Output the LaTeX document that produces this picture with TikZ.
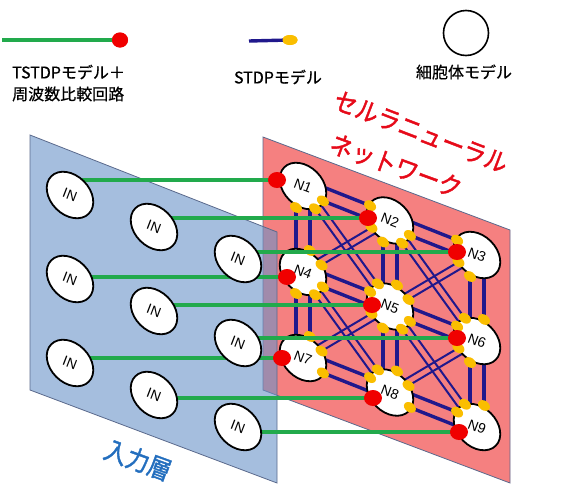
\documentclass[tikz,border=0pt]{standalone}
\usepackage{fontspec}
\setmainfont{Liberation Sans}
\newfontfamily\jp{Noto Sans CJK JP}[FakeBold=0.6]
\newfontfamily\jpb{Noto Sans CJK JP}[FakeBold=1.6]
\usetikzlibrary{calc,shapes.geometric}
\pgfdeclarelayer{back}
\pgfdeclarelayer{mid}
\pgfdeclarelayer{front}
\pgfdeclarelayer{top}
\pgfsetlayers{back,mid,main,front,top}
\definecolor{gline}{RGB}{34,170,76}
\definecolor{rdotc}{RGB}{240,0,0}
\definecolor{navyc}{RGB}{32,24,140}
\definecolor{ydot}{RGB}{250,190,0}
\definecolor{redplane}{RGB}{245,128,128}
\definecolor{blueplane}{RGB}{105,147,200}
\definecolor{edgec}{RGB}{90,105,140}
\definecolor{titlered}{RGB}{230,10,25}
\definecolor{titleblue}{RGB}{35,110,190}
\newcommand\synpair[5]{%
  \coordinate (sa) at ($(#1.center)!#3!90:(#2.center)$);
  \coordinate (sb) at ($(#2.center)!#3!-90:(#1.center)$);
  \coordinate (sc) at ($(#1.center)!#3!-90:(#2.center)$);
  \coordinate (sd) at ($(#2.center)!#3!90:(#1.center)$);
  \begin{pgfonlayer}{mid}
    \draw[#5] (sa) -- (sb);
    \draw[#5] (sc) -- (sd);
  \end{pgfonlayer}
  \node[syndot] at ($(sb)!#4!(sa)$) {};
  \node[syndot] at ($(sc)!#4!(sd)$) {};
}
\begin{document}
\begin{tikzpicture}[x=1pt,y=1pt,
  cell/.style={ellipse, draw=black, line width=1.8pt, fill=white, minimum width=53pt, minimum height=39pt, inner sep=0pt, rotate=-45, font=\fontsize{14}{14}\selectfont},
  syndot/.style={ellipse, fill=ydot, minimum width=13pt, minimum height=9.5pt, inner sep=0pt, rotate=-35},
  rdot/.style={ellipse, fill=rdotc, minimum width=18pt, minimum height=16pt, inner sep=0pt},
  gl/.style={draw=gline, line width=3.4pt},
  nvthick/.style={draw=navyc, line width=3.4pt},
  nvthin/.style={draw=navyc, line width=2pt},
  lgtext/.style={font=\jp\fontsize{16}{16}\selectfont, inner sep=0pt},
  plane/.style={draw=edgec, line width=0.8pt}
]
\useasboundingbox (0,0) rectangle (566,-485);

% planes
\begin{pgfonlayer}{back}
\path[plane, fill=redplane] (263,-137) -- (510,-230) -- (510,-483) -- (263,-390) -- cycle;
\path[plane, fill=blueplane, fill opacity=0.6] (30,-135) -- (277,-232) -- (277,-483) -- (30,-390) -- cycle;
\end{pgfonlayer}

% network cells
\node[cell] (N1) at (303,-186) {\rotatebox{24}{N1}};
\node[cell] (N2) at (390,-220.5) {\rotatebox{24}{N2}};
\node[cell] (N3) at (477,-255) {\rotatebox{24}{N3}};
\node[cell] (N4) at (303,-272) {\rotatebox{24}{N4}};
\node[cell] (N5) at (390,-306.5) {\rotatebox{24}{N5}};
\node[cell] (N6) at (477,-341) {\rotatebox{24}{N6}};
\node[cell] (N7) at (303,-358) {\rotatebox{24}{N7}};
\node[cell] (N8) at (390,-392.5) {\rotatebox{24}{N8}};
\node[cell] (N9) at (477,-427) {\rotatebox{24}{N9}};

% synapse pairs: rows
\synpair{N1}{N2}{6.5pt}{24pt}{nvthick}
\synpair{N2}{N3}{6.5pt}{24pt}{nvthick}
\synpair{N4}{N5}{6.5pt}{24pt}{nvthick}
\synpair{N5}{N6}{6.5pt}{24pt}{nvthick}
\synpair{N7}{N8}{6.5pt}{24pt}{nvthick}
\synpair{N8}{N9}{6.5pt}{24pt}{nvthick}
% columns
\synpair{N1}{N4}{7pt}{21.5pt}{nvthick}
\synpair{N4}{N7}{7pt}{21.5pt}{nvthick}
\synpair{N2}{N5}{7pt}{21.5pt}{nvthick}
\synpair{N5}{N8}{7pt}{21.5pt}{nvthick}
\synpair{N3}{N6}{7pt}{21.5pt}{nvthick}
\synpair{N6}{N9}{7pt}{21.5pt}{nvthick}
% diagonals down-right
\synpair{N1}{N5}{3.5pt}{25.5pt}{nvthin}
\synpair{N2}{N6}{3.5pt}{25.5pt}{nvthin}
\synpair{N4}{N8}{3.5pt}{25.5pt}{nvthin}
\synpair{N5}{N9}{3.5pt}{25.5pt}{nvthin}
% diagonals down-left
\synpair{N2}{N4}{3.5pt}{19.5pt}{nvthin}
\synpair{N3}{N5}{3.5pt}{19.5pt}{nvthin}
\synpair{N5}{N7}{3.5pt}{19.5pt}{nvthin}
\synpair{N6}{N8}{3.5pt}{19.5pt}{nvthin}

% input cells and red dots
\begin{pgfonlayer}{top}
\node[cell] (I1) at (70,-195) {\rotatebox{24}{IN}};
\node[cell] (I2) at (154,-227) {\rotatebox{24}{IN}};
\node[cell] (I3) at (238,-259) {\rotatebox{24}{IN}};
\node[cell] (I4) at (70,-279) {\rotatebox{24}{IN}};
\node[cell] (I5) at (154,-311) {\rotatebox{24}{IN}};
\node[cell] (I6) at (238,-343) {\rotatebox{24}{IN}};
\node[cell] (I7) at (70,-363) {\rotatebox{24}{IN}};
\node[cell] (I8) at (154,-395) {\rotatebox{24}{IN}};
\node[cell] (I9) at (238,-427) {\rotatebox{24}{IN}};
\node[rdot] (r1) at (277,-180) {};
\node[rdot] (r2) at (368,-218) {};
\node[rdot] (r3) at (457,-252) {};
\node[rdot] (r4) at (287,-277) {};
\node[rdot] (r5) at (372,-305) {};
\node[rdot] (r6) at (457,-338) {};
\node[rdot] (r7) at (282,-358) {};
\node[rdot] (r8) at (373,-398) {};
\node[rdot] (r9) at (459,-432) {};
\end{pgfonlayer}

% green connections
\begin{pgfonlayer}{front}
\draw[gl] (I1.center |- r1.center) -- (r1.center);
\draw[gl] (I2.center |- r2.center) -- (r2.center);
\draw[gl] (I3.center |- r3.center) -- (r3.center);
\draw[gl] (I4.center |- r4.center) -- (r4.center);
\draw[gl] (I5.center |- r5.center) -- (r5.center);
\draw[gl] (I6.center |- r6.center) -- (r6.center);
\draw[gl] (I7.center |- r7.center) -- (r7.center);
\draw[gl] (I8.center |- r8.center) -- (r8.center);
\draw[gl] (I9.center |- r9.center) -- (r9.center);
\end{pgfonlayer}

% titles
\node[text=titlered, rotate=-21, font=\jpb\fontsize{23}{23}\selectfont, inner sep=0pt, yscale=1.12] (t1) at (421,-132) {セルラニューラル};
\node[text=titlered, rotate=-20, font=\jpb\fontsize{23}{23}\selectfont, inner sep=0pt, yscale=1.12] (t2) at (396,-166) {ネットワーク};
\node[text=titleblue, rotate=-20, font=\jpb\fontsize{23}{23}\selectfont, inner sep=0pt, yscale=1.12] (t3) at (138,-460) {入力層};

% legend
\coordinate (lgs) at (2,-40);
\node[rdot, minimum width=16pt, minimum height=15pt] (lgr) at (120,-40) {};
\draw[gl] (lgs) -- (lgr.center);
\node[rdot, minimum width=16pt, minimum height=15pt] at (120,-40) {};
\coordinate (lns) at (249,-41);
\node[ellipse, fill=ydot, minimum width=15pt, minimum height=10pt, inner sep=0pt] (lny) at (290,-40) {};
\draw[nvthick] (lns) -- (lny.center);
\node[ellipse, fill=ydot, minimum width=15pt, minimum height=10pt, inner sep=0pt] at (290,-40) {};
\node[circle, draw=black, line width=1.6pt, minimum size=45pt, inner sep=0pt] (lgc) at (466,-33) {};
\node[lgtext, anchor=west] (lt1) at (12,-72) {TSTDPモデル＋};
\node[lgtext, anchor=west] (lt2) at (12,-94) {周波数比較回路};
\node[lgtext] (lt3) at (278,-77) {STDPモデル};
\node[lgtext] (lt4) at (464,-72) {細胞体モデル};
\end{tikzpicture}
\end{document}
